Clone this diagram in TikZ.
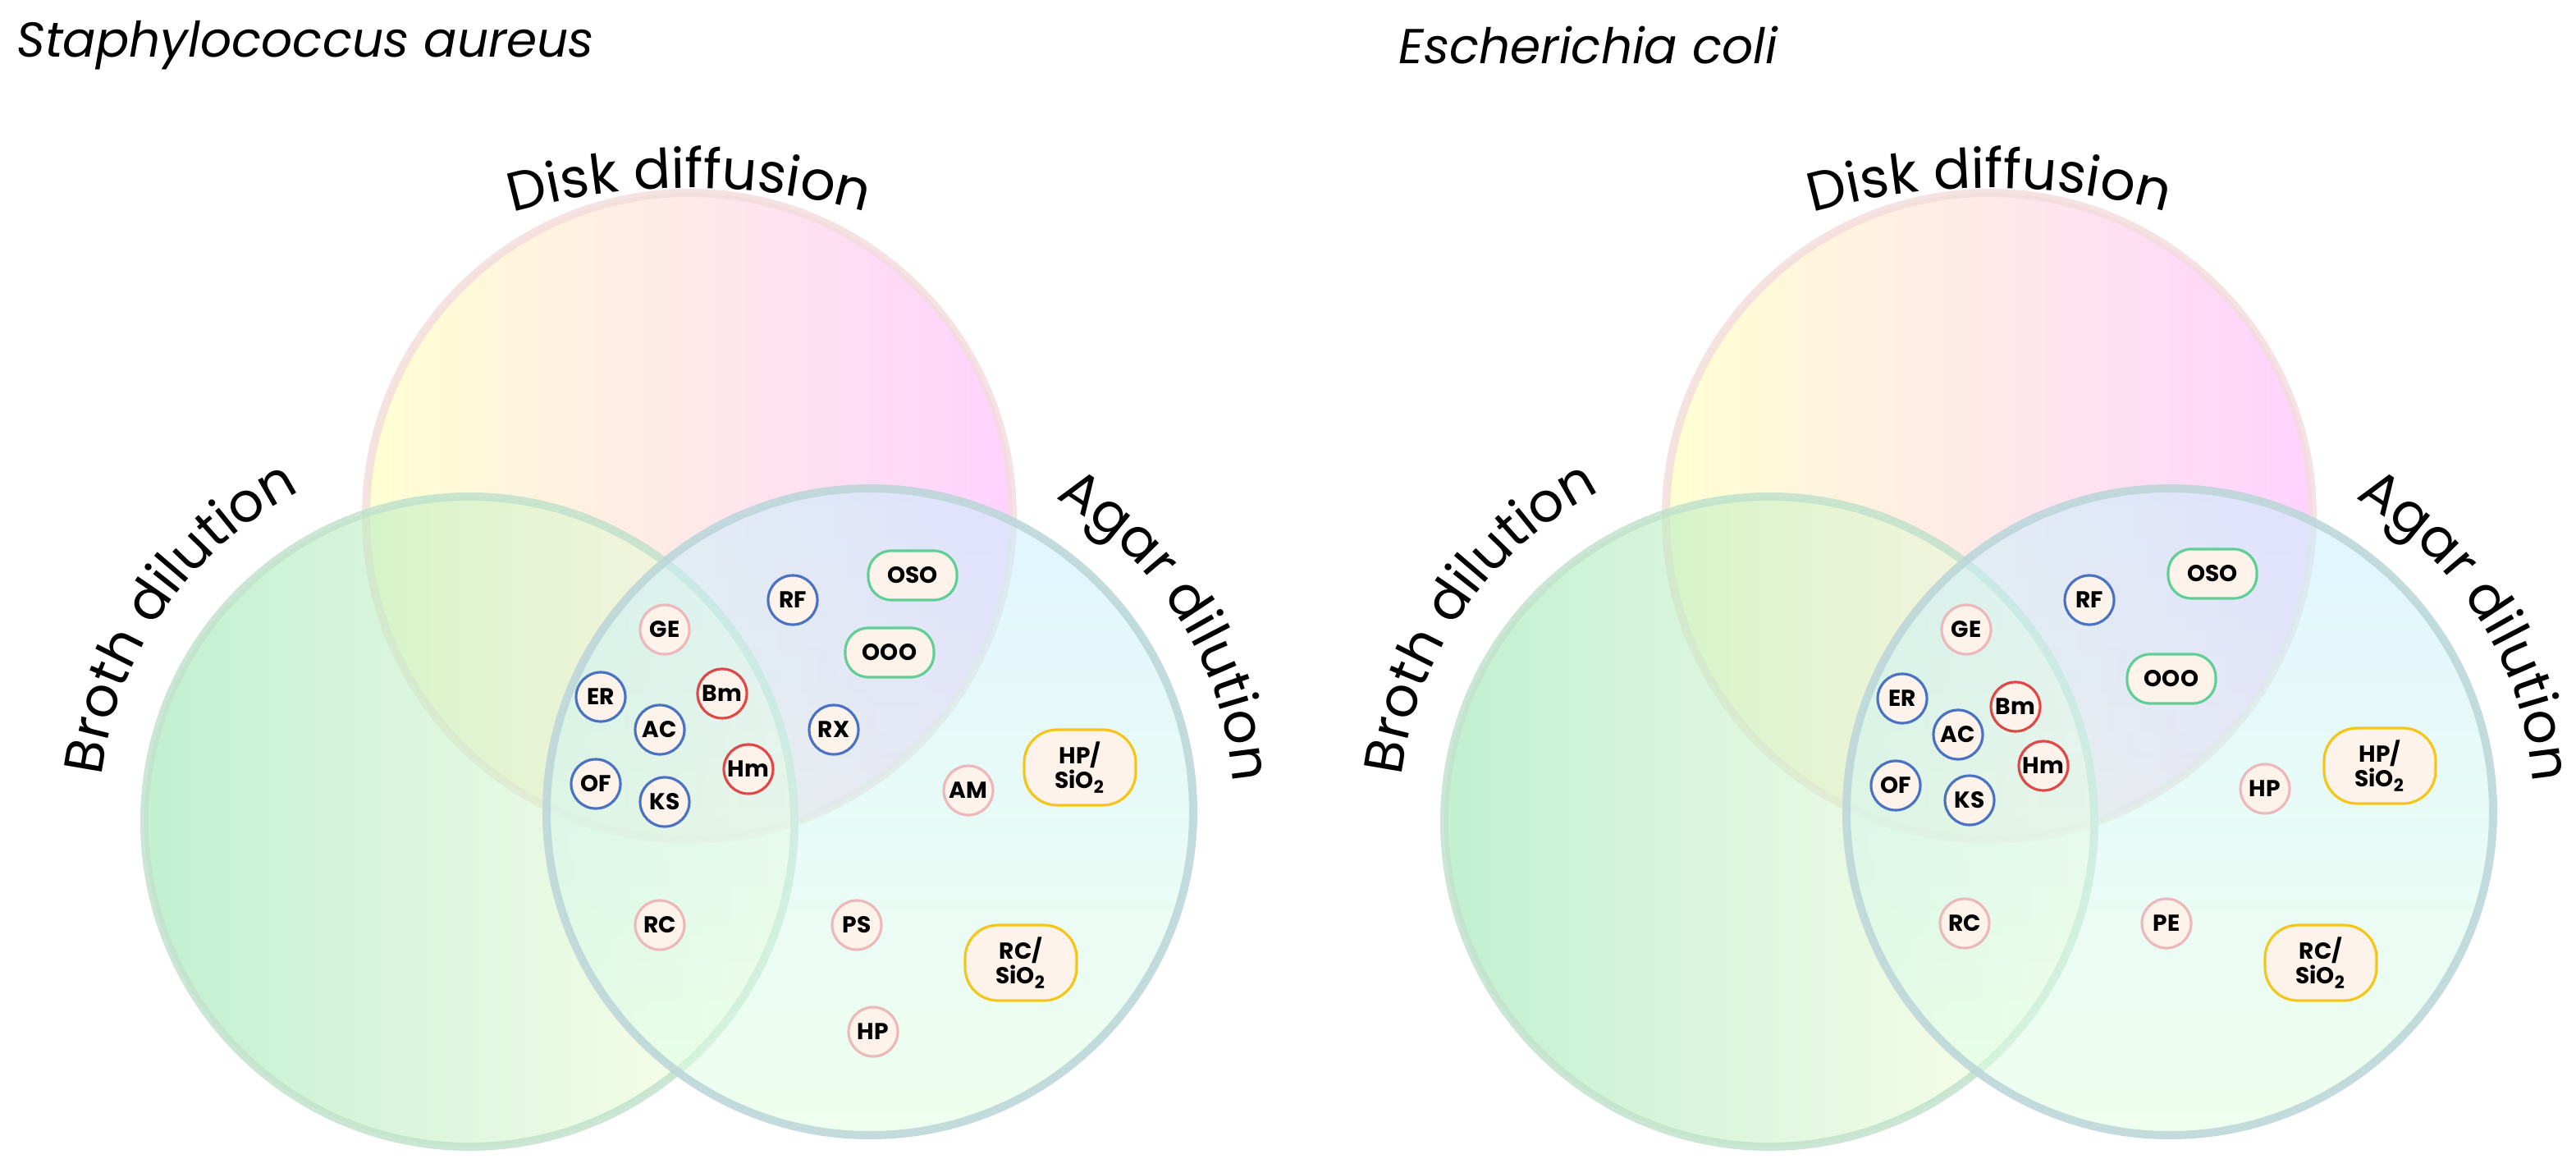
\documentclass[tikz,border=0pt]{standalone}
\usepackage{fontspec}
\setmainfont{Poppins}
\usetikzlibrary{decorations.text}
\definecolor{nfill}{HTML}{FDF3EA}
\definecolor{cpink}{HTML}{EDB8BC}
\definecolor{cblue}{HTML}{4A72C4}
\definecolor{cred}{HTML}{E04848}
\definecolor{cgreen}{HTML}{5FCF95}
\definecolor{cyel}{HTML}{F5C518}
\definecolor{stop}{HTML}{F3DCDC}
\definecolor{sleft}{HTML}{C2E2CC}
\definecolor{sright}{HTML}{BDD7D9}
\tikzset{
 sm/.style={circle,fill=nfill,draw,line width=0.9pt,minimum size=0.6cm,inner sep=0pt,font=\fontsize{8}{8}\selectfont\bfseries},
 pk/.style={sm,draw=cpink},
 bl/.style={sm,draw=cblue},
 rd/.style={sm,draw=cred},
 gr/.style={rounded corners=0.28cm,fill=nfill,draw=cgreen,line width=0.9pt,minimum width=1.08cm,minimum height=0.6cm,inner sep=0pt,font=\fontsize{8}{8}\selectfont\bfseries},
 ye/.style={rounded corners=0.4cm,fill=nfill,draw=cyel,line width=0.9pt,minimum width=1.36cm,minimum height=0.92cm,inner sep=0pt,align=center,font=\fontsize{8}{8.5}\selectfont\bfseries},
 ring/.style={line width=0.1cm},
 lab/.style={decorate,decoration={text along path,text align=center,text={#1}}},
 ttl/.style={anchor=west,font=\fontsize{17}{17}\selectfont\itshape}
}
\newcommand{\venn}[1]{%
 \begin{scope}[xshift=#1*0.02cm]
 \shade[left color=yellow!25,right color=magenta!25,fill opacity=0.7] (420,391) circle[radius=197];
 \draw[ring,draw=stop,draw opacity=0.8] (420,391) circle[radius=197];
 \shade[shading angle=60,left color=green!50!teal!40,right color=yellow!12,fill opacity=0.6] (286,205) circle[radius=198];
 \draw[ring,draw=sleft,draw opacity=0.85] (286,205) circle[radius=198];
 \shade[top color=blue!30!cyan!22,bottom color=green!12,fill opacity=0.55] (530,211) circle[radius=197];
 \draw[ring,draw=sright,draw opacity=0.9] (530,211) circle[radius=197];
 \path[lab={|\fontsize{19}{19}\selectfont|Disk diffusion}] (420,191) ++(125:400) arc[start angle=125,end angle=55,radius=400];
 \path[lab={|\fontsize{19}{19}\selectfont|Broth dilution}] (286,205) ++(195:226) arc[start angle=195,end angle=95,radius=226];
 \path[lab={|\fontsize{19}{19}\selectfont|Agar dilution}] (530,211) ++(82:222) arc[start angle=82,end angle=-18,radius=222];
 \end{scope}}
\begin{document}
\begin{tikzpicture}[x=0.02cm,y=0.02cm]
\useasboundingbox (0,0) rectangle (1569.5,705.5);
\venn{0}
\venn{792}
\node[ttl] (t1) at (4,678) {Staphylococcus aureus};
\node[ttl] (t2) at (846,678) {Escherichia coli};
% left nodes
\node[pk] (aGE) at (405,322) {GE};
\node[bl] (aRF) at (483,340) {RF};
\node[gr] (aOSO) at (556,355) {OSO};
\node[gr] (aOOO) at (542,308) {OOO};
\node[bl] (aER) at (366,281) {ER};
\node[rd] (aBm) at (440,283) {Bm};
\node[bl] (aAC) at (402,261) {AC};
\node[bl] (aRX) at (508,261) {RX};
\node[rd] (aHm) at (456,237) {Hm};
\node[bl] (aOF) at (363,228) {OF};
\node[bl] (aKS) at (405,217) {KS};
\node[ye] (aHPS) at (658,238) {HP/\\SiO\textsubscript{2}};
\node[pk] (aAM) at (590,224) {AM};
\node[pk] (aRC) at (402,142) {RC};
\node[pk] (aPS) at (522,142) {PS};
\node[ye] (aRCS) at (622,119) {RC/\\SiO\textsubscript{2}};
\node[pk] (aHP) at (532,77) {HP};
% right nodes
\node[pk] (bGE) at (1198,322) {GE};
\node[bl] (bRF) at (1273,340) {RF};
\node[gr] (bOSO) at (1348,356) {OSO};
\node[gr] (bOOO) at (1323,292) {OOO};
\node[bl] (bER) at (1159,280) {ER};
\node[rd] (bBm) at (1228,275) {Bm};
\node[bl] (bAC) at (1193,258) {AC};
\node[rd] (bHm) at (1245,239) {Hm};
\node[bl] (bOF) at (1155,227) {OF};
\node[bl] (bKS) at (1200,218) {KS};
\node[ye] (bHPS) at (1450,239) {HP/\\SiO\textsubscript{2}};
\node[pk] (bHP) at (1380,225) {HP};
\node[pk] (bRC) at (1197,143) {RC};
\node[pk] (bPE) at (1320,143) {PE};
\node[ye] (bRCS) at (1414,119) {RC/\\SiO\textsubscript{2}};
\end{tikzpicture}
\end{document}
